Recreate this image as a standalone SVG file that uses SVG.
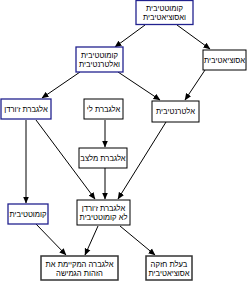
<svg xmlns="http://www.w3.org/2000/svg" width="250" height="281" viewBox="0 0 250 281">
<defs>
<marker id="ah" markerWidth="7" markerHeight="7" refX="6.5" refY="3.5" orient="auto" markerUnits="userSpaceOnUse">
<path d="M0,0.5 L7,3.5 L0,6.5 Z" fill="#000"/>
</marker>
<style>
.b{fill:#fff;stroke:#000;stroke-width:1}
.bl{fill:#fff;stroke:#22228f;stroke-width:1.3}
.g{fill:#fff;stroke:#333;stroke-width:1.5}
text{font-family:"Liberation Sans","DejaVu Sans",sans-serif;font-size:7.6px;fill:#000;text-anchor:middle;direction:rtl}
.c line{stroke:#000;stroke-width:1;marker-end:url(#ah)}
</style>
</defs>
<rect width="250" height="281" fill="#fff"/>
<g class="c" id="connectors">
<line x1="145" y1="25" x2="115" y2="47"/>
<line x1="177" y1="25" x2="210" y2="49"/>
<line x1="80" y1="72" x2="42" y2="98"/>
<line x1="118" y1="72" x2="160" y2="100"/>
<line x1="205" y1="70" x2="185" y2="100"/>
<line x1="26" y1="120" x2="26" y2="203"/>
<line x1="36" y1="120" x2="95" y2="199"/>
<line x1="105" y1="120" x2="105" y2="147"/>
<line x1="105" y1="168" x2="105" y2="199"/>
<line x1="166" y1="122" x2="118" y2="199"/>
<line x1="36" y1="224" x2="66" y2="255"/>
<line x1="98" y1="226" x2="85" y2="255"/>
<line x1="120" y1="226" x2="155" y2="255"/>
</g>
<g id="n1"><rect class="bl" x="136" y="0.5" width="57" height="24"/><text x="164.5" y="10.5">קומוטטיבית</text><text x="164.5" y="20">ואסוציאטיבית</text></g>
<g id="n2"><rect class="bl" x="76" y="47" width="47" height="25"/><text x="99.5" y="57.5">קומוטטיבית</text><text x="99.5" y="67">ואלטרנטיבית</text></g>
<g id="n3"><rect class="b" x="203" y="50" width="43" height="20"/><text x="224.5" y="62.5">אסוציאטיבית</text></g>
<g id="n4"><rect class="bl" x="1" y="99" width="50" height="20"/><text x="26" y="111.5">אלגברת ז'ורדן</text></g>
<g id="n5"><rect class="b" x="84" y="99" width="39" height="20"/><text x="103.5" y="111.5">אלגברת לי</text></g>
<g id="n6"><rect class="b" x="152" y="101" width="47" height="21"/><text x="175.5" y="114">אלטרנטיבית</text></g>
<g id="n7"><rect class="b" x="79" y="148" width="48" height="20"/><text x="103" y="160.5">אלגברת מלצב</text></g>
<g id="n8"><rect class="b" x="77" y="200" width="53" height="25"/><text x="103.5" y="210.5">אלגברת ז'ורדן</text><text x="103.5" y="220">לא קומוטטיבית</text></g>
<g id="n9"><rect class="bl" x="8" y="204" width="40" height="20"/><text x="28" y="216.5">קומוטטיבית</text></g>
<g id="n10"><rect class="g" x="41" y="256" width="77" height="24"/><text x="79.5" y="266.5">אלגברה המקיימת את</text><text x="79.5" y="276">הזהות הגמישה</text></g>
<g id="n11"><rect class="g" x="146" y="256" width="46" height="24"/><text x="169" y="266.5">בעלת חזקה</text><text x="169" y="276">אסוציאטיבית</text></g>
</svg>
